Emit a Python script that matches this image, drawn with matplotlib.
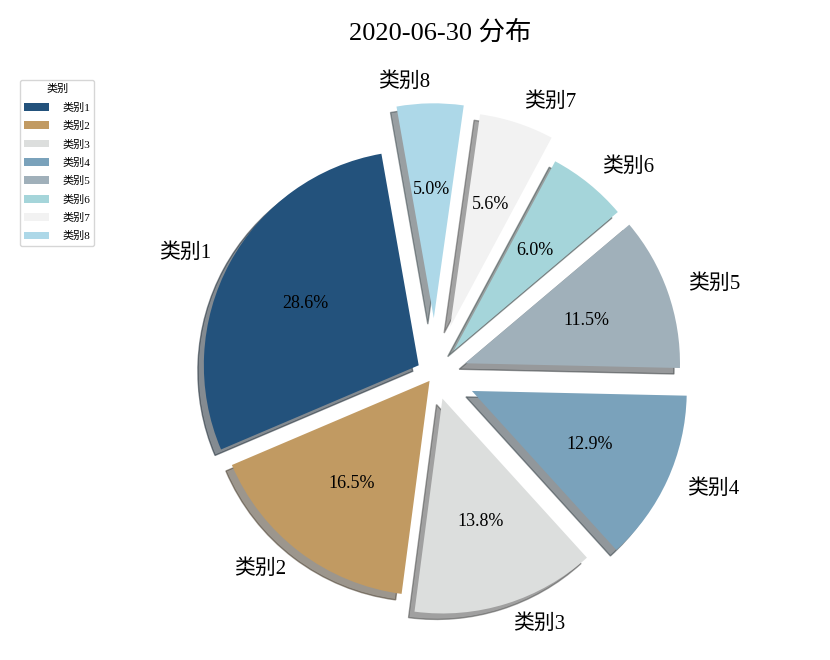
import matplotlib.pyplot as plt

plt.rcParams['font.family'] = ['Liberation Serif', 'Noto Sans CJK SC', 'DejaVu Sans']

labels = ['类别1', '类别2', '类别3', '类别4', '类别5', '类别6', '类别7', '类别8']
values = [28.6, 16.5, 13.8, 12.9, 11.5, 6.0, 5.6, 5.0]
colors = ['#23527c', '#c19a62', '#dcdedd', '#7aa2bb', '#a0b0ba', '#a5d5da', '#f2f2f2', '#add8e8']
explode = [0.085, 0.04, 0.12, 0.19, 0.15, 0.14, 0.23, 0.26]

fig = plt.figure(figsize=(8.3, 6.6), dpi=100)
ax = fig.add_axes([0.1873, 0.0098, 0.673, 0.847])

wedges, texts, autotexts = ax.pie(values, labels=labels, colors=colors, explode=explode,
                                  autopct='%.1f%%', startangle=100, shadow=True,
                                  textprops={'fontsize': 15})
for t in autotexts:
    t.set_fontsize(13)
ax.set_xlim(-1.3, 1.3)
ax.set_ylim(-1.3, 1.3)
ax.set_aspect('equal')

fig.text(0.53, 1 - 32 / 660, '2020-06-30 分布', ha='center', va='center', fontsize=19)
fig.legend(wedges, labels, title='类别', loc='upper left', bbox_to_anchor=(0.024, 0.879),
           borderaxespad=0, fontsize=8, title_fontsize=8, handletextpad=1.2,
           handlelength=2.2, labelspacing=0.75)

fig.savefig('out.png')
